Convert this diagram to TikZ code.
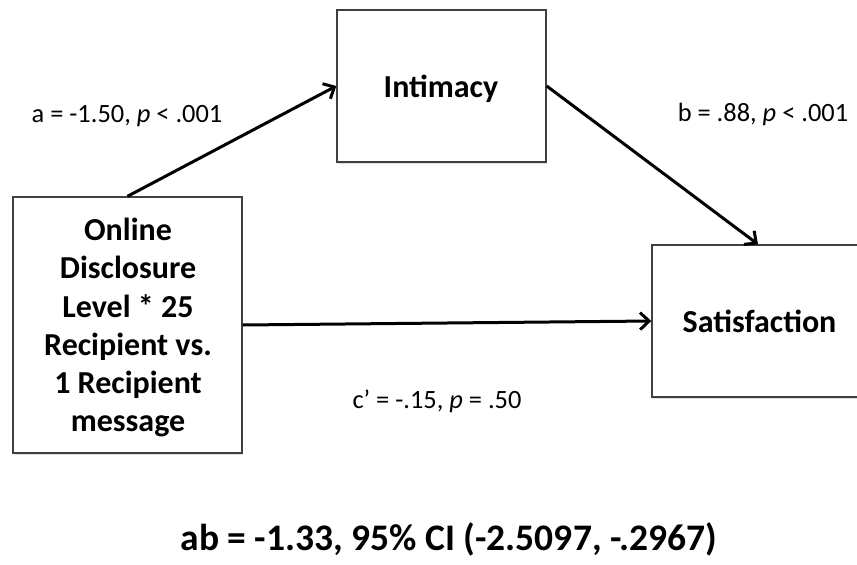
\documentclass[tikz,border=0pt]{standalone}
\usepackage{fontspec}
\setmainfont{Carlito}
\usetikzlibrary{arrows.meta,shadows}
\begin{document}
\begin{tikzpicture}[x=1pt,y=-1pt,
  varbox/.style={draw=black!75, line width=1.4pt, fill=white,
    drop shadow={shadow xshift=0.8pt, shadow yshift=-1.5pt, opacity=0.25},
    inner sep=0pt},
  vartext/.style={inner sep=0pt, align=center,
    font=\fontsize{32}{38.2}\selectfont\bfseries},
  path/.style={line width=3pt, -{Straight Barb[length=9pt,width=17pt,line width=3pt]}},
  coef/.style={font=\fontsize{26.4}{30}\selectfont, inner sep=0pt, anchor=base}]
  \clip (0,0) rectangle (857,565);
  \fill[white] (0,0) rectangle (857,565);

  % variable boxes
  \node[varbox, minimum width=209pt, minimum height=152pt] (med) at (441.5,86) {};
  \node[varbox, minimum width=229pt, minimum height=256pt] (iv) at (127.5,325) {};
  \node[varbox, minimum width=212pt, minimum height=152pt] (dv) at (758,321) {};

  % variable names
  \node[vartext, anchor=base] (medname) at (441,97) {Intimacy};
  \node[vartext] (ivname) at (128,327.6)
    {Online\\Disclosure\\Level * 25\\Recipient vs.\\1 Recipient\\message};
  \node[vartext, anchor=base] (dvname) at (759.5,332) {Satisfaction};

  % paths
  \draw[path] (iv.north) -- (med.west);
  \draw[path] (med.east) -- (dv.north);
  \draw[path] (iv.east) -- (dv.west);

  % coefficients
  \node[coef] (la) at (127,122) {a = -1.50, \textit{p} < .001};
  \node[coef] (lb) at (763,121) {b = .88, \textit{p} < .001};
  \node[coef] (lc) at (437,408) {c’ = -.15, \textit{p} = .50};

  % indirect effect
  \node[font=\fontsize{37.5}{44}\selectfont\bfseries, inner sep=0pt, anchor=base] (ab) at (449,550)
    {ab = -1.33, 95\% CI (-2.5097, -.2967)};
\end{tikzpicture}
\end{document}
